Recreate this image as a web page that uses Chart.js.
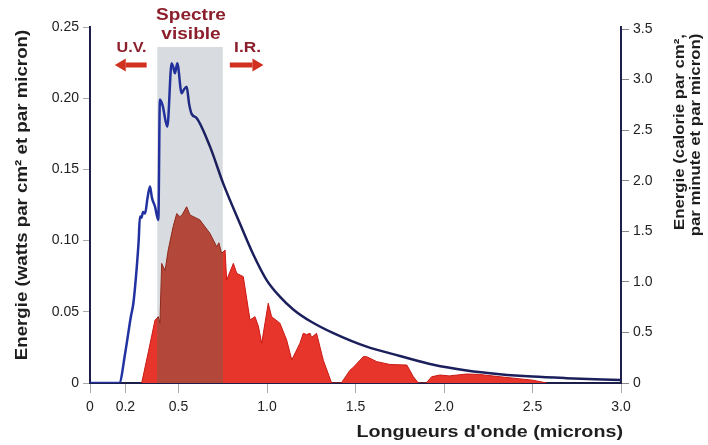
<!DOCTYPE html>
<html><head><meta charset="utf-8">
<script src="https://cdn.jsdelivr.net/npm/chart.js@4/dist/chart.umd.min.js"></script>
<style>html,body{margin:0;padding:0;background:#fff}</style>
</head><body>
<canvas id="c" width="708" height="445"></canvas>
<script>
// Extra-terrestrial solar spectrum (blue curve), W per cm² per micron
const spaceX = [0, 0.165, 0.2, 0.23, 0.245, 0.26, 0.275, 0.282, 0.29, 0.3, 0.311, 0.325, 0.339, 0.35, 0.367, 0.386, 0.395, 0.41, 0.437, 0.461, 0.47, 0.48, 0.493, 0.518, 0.53, 0.546, 0.56, 0.574, 0.603, 0.678, 0.753, 0.847, 0.92, 0.998, 1.07, 1.15, 1.25, 1.375, 1.563, 1.751, 1.94, 2.128, 2.316, 2.5, 2.69, 3.0];
const spaceY = [0, 0, 0.022, 0.046, 0.056, 0.075, 0.1, 0.117, 0.116, 0.12, 0.119, 0.13, 0.138, 0.13, 0.124, 0.1145, 0.199, 0.195, 0.18, 0.2245, 0.222, 0.2175, 0.2245, 0.2034, 0.206, 0.208, 0.196, 0.189, 0.186, 0.166, 0.14, 0.112, 0.091, 0.0723, 0.061, 0.0515, 0.043, 0.035, 0.0255, 0.019, 0.0128, 0.0088, 0.0062, 0.0045, 0.0034, 0.0021];
// Ground-level spectrum (red area), W per cm² per micron
const groundX = [0.292, 0.33, 0.367, 0.386, 0.395, 0.405, 0.424, 0.442, 0.47, 0.49, 0.508, 0.52, 0.546, 0.565, 0.621, 0.678, 0.716, 0.728, 0.744, 0.763, 0.772, 0.81, 0.829, 0.866, 0.904, 0.932, 0.951, 0.97, 1.007, 1.026, 1.073, 1.111, 1.14, 1.186, 1.205, 1.224, 1.243, 1.252, 1.28, 1.318, 1.365, 1.42, 1.469, 1.488, 1.544, 1.563, 1.62, 1.695, 1.79, 1.827, 1.855, 1.9, 1.93, 1.977, 2.03, 2.128, 2.2, 2.316, 2.5, 2.58];
const groundY = [0, 0.022, 0.044, 0.0466, 0.042, 0.084, 0.079, 0.0934, 0.11, 0.119, 0.1168, 0.118, 0.1238, 0.118, 0.1145, 0.105, 0.0957, 0.0985, 0.091, 0.0934, 0.0723, 0.084, 0.077, 0.0747, 0.0442, 0.0466, 0.04, 0.0279, 0.056, 0.0466, 0.042, 0.0302, 0.0162, 0.0279, 0.0349, 0.034, 0.0349, 0.032, 0.0349, 0.016, 0, 0, 0.009, 0.011, 0.0185, 0.0185, 0.015, 0.013, 0.0126, 0.0044, 0, 0, 0.0044, 0.0056, 0.005, 0.0063, 0.006, 0.0044, 0.002, 0];
const xTicks = [0, 0.2, 0.5, 1.0, 1.5, 2.0, 2.5, 3.0];
const leftTicks = [0, 0.05, 0.10, 0.15, 0.20, 0.25];
const rightTicks = [0, 0.5, 1.0, 1.5, 2.0, 2.5, 3.0, 3.5];
const visibleBand = [0.38, 0.75];
const visibleBandTop = 0.236;
const uvArrow = [0.32, 0.14];
const irArrow = [0.79, 0.98];
const txt = {
  left: 'Energie (watts par cm² et par micron)',
  right1: 'Energie (calorie par cm²,',
  right2: 'par minute et par micron)',
  x: "Longueurs d'onde (microns)",
  sp1: 'Spectre', sp2: 'visible', uv: 'U.V.', ir: 'I.R.'
};

const FONT = '"Liberation Sans", Arial, sans-serif';
const MAROON = '#8c1f2c';
const ARROW = '#d1301f';

function bandGradient(ctx, inside, outside) {
  const chart = ctx.chart;
  const ca = chart.chartArea;
  if (!ca) return outside;
  const sx = chart.scales.x;
  const x0 = sx.getPixelForValue(visibleBand[0]);
  const x1 = sx.getPixelForValue(visibleBand[1]);
  const g = chart.ctx.createLinearGradient(ca.left, 0, ca.right, 0);
  const w = ca.right - ca.left;
  const a = (x0 - ca.left) / w, b = (x1 - ca.left) / w;
  g.addColorStop(0, outside);
  g.addColorStop(a, outside);
  g.addColorStop(a, inside);
  g.addColorStop(b, inside);
  g.addColorStop(b, outside);
  g.addColorStop(1, outside);
  return g;
}

function lineGradient(ctx) {
  const chart = ctx.chart;
  const ca = chart.chartArea;
  if (!ca) return '#1c2060';
  const sx = chart.scales.x;
  const g = chart.ctx.createLinearGradient(ca.left, 0, ca.right, 0);
  const w = ca.right - ca.left;
  g.addColorStop(0, '#2033a8');
  g.addColorStop((sx.getPixelForValue(0.5) - ca.left) / w, '#22309a');
  g.addColorStop((sx.getPixelForValue(0.66) - ca.left) / w, '#1b1f5c');
  g.addColorStop(1, '#1b1f5c');
  return g;
}

const bandPlugin = {
  id: 'band',
  beforeDatasetsDraw(chart) {
    const c = chart.ctx, sx = chart.scales.x, sy = chart.scales.y;
    const x0 = sx.getPixelForValue(visibleBand[0]);
    const x1 = sx.getPixelForValue(visibleBand[1]);
    const yT = sy.getPixelForValue(visibleBandTop);
    const yB = sy.getPixelForValue(0);
    c.save();
    c.fillStyle = '#d8dce0';
    c.fillRect(x0, yT, x1 - x0, yB - yT);
    c.restore();
  }
};

function drawArrow(c, xFrom, xTo, y) {
  const dir = Math.sign(xTo - xFrom);
  const head = 11;
  c.save();
  c.fillStyle = ARROW;
  c.fillRect(Math.min(xFrom, xTo - dir * head), y - 2.5, Math.abs(xTo - dir * head - xFrom), 5);
  c.beginPath();
  c.moveTo(xTo, y);
  c.lineTo(xTo - dir * head, y - 6.5);
  c.lineTo(xTo - dir * head, y + 6.5);
  c.closePath();
  c.fill();
  c.restore();
}

// draw text with a horizontal stretch factor, optional rotation
function stretchText(c, s, x, y, font, stretch, rot) {
  c.save();
  c.translate(x, y);
  if (rot) c.rotate(rot);
  c.scale(stretch, 1);
  c.font = font;
  c.fillText(s, 0, 0);
  c.restore();
}

const textPlugin = {
  id: 'texts',
  afterDraw(chart) {
    const c = chart.ctx, ca = chart.chartArea, sx = chart.scales.x;
    c.save();
    c.fillStyle = '#1e1e1e';
    c.textBaseline = 'middle';
    c.textAlign = 'center';
    stretchText(c, txt.left, 22, 195, 'bold 17px ' + FONT, 1.1, -Math.PI / 2);
    stretchText(c, txt.right1, 680, 132, 'bold 15px ' + FONT, 1.12, -Math.PI / 2);
    stretchText(c, txt.right2, 696, 135, 'bold 15px ' + FONT, 1.12, -Math.PI / 2);
    c.textAlign = 'right';
    stretchText(c, txt.x, ca.right + 2, 432, 'bold 17px ' + FONT, 1.16, 0);
    const bc = (sx.getPixelForValue(visibleBand[0]) + sx.getPixelForValue(visibleBand[1])) / 2;
    c.fillStyle = MAROON;
    c.textAlign = 'center';
    stretchText(c, txt.sp1, bc + 1, ca.top - 12, 'bold 17px ' + FONT, 1.12, 0);
    stretchText(c, txt.sp2, bc + 1, ca.top + 7, 'bold 17px ' + FONT, 1.12, 0);
    stretchText(c, txt.uv, sx.getPixelForValue(0.235), ca.top + 21, 'bold 15px ' + FONT, 1.08, 0);
    stretchText(c, txt.ir, sx.getPixelForValue(0.89), ca.top + 21, 'bold 15px ' + FONT, 1.15, 0);
    drawArrow(c, sx.getPixelForValue(uvArrow[0]), sx.getPixelForValue(uvArrow[1]), ca.top + 38);
    drawArrow(c, sx.getPixelForValue(irArrow[0]), sx.getPixelForValue(irArrow[1]), ca.top + 38);
    c.restore();
  }
};

const AXIS = '#1b1f4a';
const tickFont = { family: FONT, size: 14 };

new Chart(document.getElementById('c'), {
  type: 'line',
  data: {
    datasets: [
      {
        label: 'espace',
        data: spaceX.map((x, i) => ({ x, y: spaceY[i] })),
        borderColor: lineGradient,
        borderWidth: 2.5,
        pointRadius: 0,
        fill: false,
        cubicInterpolationMode: 'monotone',
        yAxisID: 'y'
      },
      {
        label: 'sol',
        data: groundX.map((x, i) => ({ x, y: groundY[i] })),
        borderColor: (ctx) => bandGradient(ctx, '#8e2a1c', '#c81812'),
        borderWidth: 1,
        backgroundColor: (ctx) => bandGradient(ctx, '#b2473a', '#e8352b'),
        pointRadius: 0,
        fill: 'origin',
        tension: 0,
        yAxisID: 'y'
      }
    ]
  },
  options: {
    responsive: false,
    devicePixelRatio: 1,
    animation: false,
    layout: { padding: { top: 27, left: 0, right: 0, bottom: 0 } },
    plugins: { legend: { display: false }, tooltip: { enabled: false } },
    scales: {
      x: {
        type: 'linear', min: 0, max: 3,
        afterBuildTicks: s => { s.ticks = xTicks.map(v => ({ value: v })); },
        afterFit: s => { s.height = 62; },
        ticks: { callback: v => v === 0 ? '0' : v.toFixed(1), color: '#222', font: tickFont, padding: 6, maxRotation: 0 },
        grid: { drawOnChartArea: false, tickLength: 10, color: '#aaa', tickWidth: 1 },
        border: { display: true, color: AXIS, width: 2 }
      },
      y: {
        type: 'linear', position: 'left', min: 0, max: 0.25,
        afterBuildTicks: s => { s.ticks = leftTicks.map(v => ({ value: v })); },
        afterFit: s => { s.width = 90; },
        ticks: { callback: v => v === 0 ? '0' : v.toFixed(2), color: '#222', font: tickFont, padding: 4 },
        grid: { drawOnChartArea: false, tickLength: 7, color: '#aaa' },
        border: { display: true, color: AXIS, width: 2 }
      },
      y2: {
        type: 'linear', position: 'right', min: 0, max: 3.52,
        afterBuildTicks: s => { s.ticks = rightTicks.map(v => ({ value: v })); },
        afterFit: s => { s.width = 87; },
        ticks: { callback: v => v === 0 ? '0' : v.toFixed(1), color: '#222', font: tickFont, padding: 4 },
        grid: { drawOnChartArea: false, tickLength: 8, color: '#888' },
        border: { display: true, color: AXIS, width: 2 }
      }
    }
  },
  plugins: [bandPlugin, textPlugin]
});
</script>
</body></html>
